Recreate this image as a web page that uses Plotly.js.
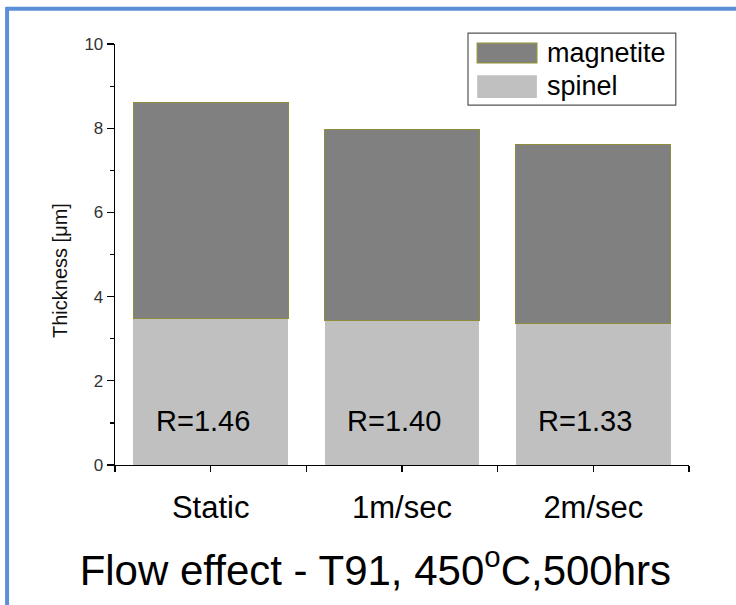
<!DOCTYPE html>
<html>
<head>
<meta charset="utf-8">
<script src="https://cdn.plot.ly/plotly-3.0.1.min.js"></script>
<style>html,body{margin:0;padding:0;background:#fff;}#chart{width:736px;height:605px;}</style>
</head>
<body>
<div id="chart"></div>
<script>
// ---- data ----
var categories = ["Static", "1m/sec", "2m/sec"];
var spinel = [3.47, 3.43, 3.36];
var magnetite = [5.13, 4.55, 4.26];
var ratioLabels = ["R=1.46", "R=1.40", "R=1.33"];
var seriesNames = ["magnetite", "spinel"];
var yTicks = [0, 2, 4, 6, 8, 10];

var xIdx = categories.map(function (c, i) { return i; });
var boundaries = [-0.5, 0.5, 1.5, 2.5];

var traces = [
  {
    type: "bar", name: seriesNames[1], x: xIdx, y: spinel, width: 0.81,
    marker: { color: "#c0c0c0", line: { width: 0 } }, showlegend: false, hoverinfo: "y"
  },
  {
    type: "bar", name: seriesNames[0], x: xIdx, y: magnetite, width: 0.81,
    marker: { color: "#808080", line: { color: "#8e8e3a", width: 1 } }, showlegend: false, hoverinfo: "y"
  }
];

var font = "Liberation Sans, Arial, sans-serif";

var annotations = ratioLabels.map(function (t, i) {
  return { x: xIdx[i], y: 1.05, xref: "x", yref: "y", text: t, showarrow: false, xshift: -8,
           font: { family: font, size: 29, color: "#000" } };
});

// y-axis title (placed as in the reference, slightly below the axis middle)
annotations.push({ x: -0.096, y: 0.463, xref: "paper", yref: "paper", xanchor: "center", yanchor: "middle",
  text: "Thickness [&mu;m]", textangle: -90, showarrow: false, font: { family: font, size: 20, color: "#111" } });

// legend drawn as a box (wide swatches as in the reference)
var lg = { x0: 0.615, x1: 0.977, y0: 0.855, y1: 1.026 };
annotations.push({ x: 0.749, y: 0.979, xref: "paper", yref: "paper", xanchor: "left", yanchor: "middle",
  text: seriesNames[0], showarrow: false, font: { family: font, size: 27, color: "#000" } });
annotations.push({ x: 0.749, y: 0.900, xref: "paper", yref: "paper", xanchor: "left", yanchor: "middle",
  text: seriesNames[1], showarrow: false, font: { family: font, size: 27, color: "#000" } });

var shapes = [
  { type: "rect", xref: "paper", yref: "paper", x0: lg.x0, x1: lg.x1, y0: lg.y0, y1: lg.y1,
    line: { color: "#555", width: 1.2 }, fillcolor: "#fff" },
  { type: "rect", xref: "paper", yref: "paper", x0: 0.631, x1: 0.735, y0: 0.955, y1: 1.002,
    line: { color: "#8e8e3a", width: 1.2 }, fillcolor: "#808080" },
  { type: "rect", xref: "paper", yref: "paper", x0: 0.631, x1: 0.735, y0: 0.872, y1: 0.926,
    line: { width: 0 }, fillcolor: "#c0c0c0" },
  // blue frame (top and left edges)
  { type: "line", xref: "paper", yref: "paper", x0: -0.190, x1: 1.10, y0: 1.084, y1: 1.084,
    line: { color: "#5b8fd8", width: 4 } },
  { type: "line", xref: "paper", yref: "paper", x0: -0.188, x1: -0.188, y0: 1.088, y1: -0.35,
    line: { color: "#5b8fd8", width: 4 } }
];

var layout = {
  width: 736, height: 605,
  margin: { l: 115, r: 47, t: 44, b: 140 },
  paper_bgcolor: "#fff", plot_bgcolor: "#fff",
  barmode: "stack",
  showlegend: false,
  title: {
    text: "Flow effect - T91, 450<sup>o</sup>C,500hrs",
    x: 0.51, xanchor: "center", y: 0.058, yanchor: "middle",
    font: { family: font, size: 42, color: "#000" }
  },
  xaxis: {
    range: [-0.5, 2.5], tickmode: "array", tickvals: xIdx, ticktext: categories,
    showgrid: false, zeroline: false, showline: true, linecolor: "#000", linewidth: 1.3,
    ticks: "outside", ticklen: 6, tickwidth: 1.2, tickcolor: "#000",
    ticklabelstandoff: 8,
    minor: { tickmode: "array", tickvals: boundaries, ticks: "outside", ticklen: 6, tickwidth: 1.2, tickcolor: "#000", showgrid: false },
    tickfont: { family: font, size: 31, color: "#000" },
    fixedrange: true
  },
  yaxis: {
    range: [0, 10], tickmode: "array", tickvals: yTicks,
    showgrid: false, zeroline: false, showline: true, linecolor: "#000", linewidth: 1.3,
    ticks: "outside", ticklen: 7, tickwidth: 1.2, tickcolor: "#000",
    minor: { dtick: 1, ticks: "outside", ticklen: 4, tickwidth: 1.2, tickcolor: "#000", showgrid: false },
    tickfont: { family: font, size: 17, color: "#333" },
    fixedrange: true
  },
  annotations: annotations,
  shapes: shapes
};

Plotly.newPlot("chart", traces, layout, { displayModeBar: false, staticPlot: true });
</script>
</body>
</html>
